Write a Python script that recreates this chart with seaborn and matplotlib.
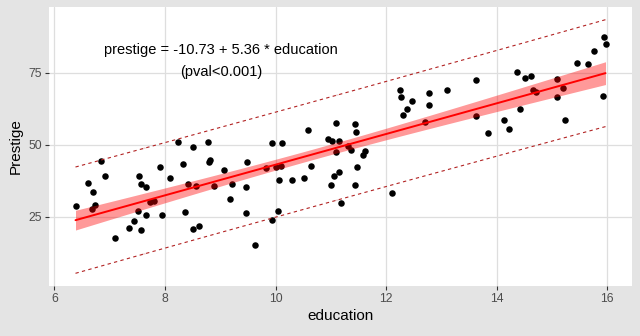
import numpy as np
import pandas as pd
import matplotlib
matplotlib.use("Agg")
import matplotlib.pyplot as plt
import seaborn as sns

education = [6.85, 6.92, 6.60, 6.69, 6.38, 6.74, 6.67, 7.53, 7.57, 7.65,
             7.91, 8.09, 7.73, 7.80, 7.51, 7.65, 7.94, 7.43, 7.34, 7.57,
             7.10, 8.24, 8.77, 8.50, 9.93, 8.33, 8.81, 8.79, 9.48, 9.06,
             8.41, 8.56, 8.88, 9.22, 9.46, 9.83, 10.00, 10.07, 9.17, 8.37,
             9.46, 10.05, 9.93, 8.50, 8.61, 9.62, 12.26, 12.27, 12.46, 12.77,
             12.38, 12.30, 12.77, 12.71, 11.09, 11.43, 11.45, 10.58, 10.94, 11.03,
             11.14, 11.09, 10.11, 11.31, 11.36, 11.61, 11.59, 10.10, 10.65, 11.48,
             11.14, 11.05, 10.29, 10.51, 11.00, 11.43, 12.10, 11.19, 15.95, 15.97,
             15.77, 15.45, 15.65, 14.36, 13.62, 13.11, 14.51, 14.62, 15.09, 14.65,
             14.71, 15.21, 15.09, 15.93, 14.43, 13.62, 14.14, 15.23, 13.84, 14.22]
prestige = [44.2, 39.0, 36.7, 33.5, 28.6, 29.0, 27.6, 39.0, 36.4, 35.2,
            42.2, 38.3, 30.1, 30.5, 26.9, 25.5, 25.5, 23.5, 21.0, 20.4,
            17.5, 51.0, 51.0, 49.1, 50.5, 43.3, 44.6, 43.9, 43.9, 41.1,
            36.3, 35.6, 35.6, 36.3, 35.2, 41.8, 42.4, 37.6, 31.0, 26.5,
            26.2, 26.9, 23.8, 20.6, 21.7, 15.1, 69.1, 66.5, 65.1, 67.9,
            62.3, 60.2, 63.7, 57.8, 57.4, 57.1, 54.3, 55.0, 51.9, 51.2,
            51.2, 47.4, 50.5, 49.7, 48.1, 47.7, 46.4, 42.7, 42.5, 42.2,
            40.4, 39.0, 37.6, 38.3, 35.9, 35.9, 33.1, 29.7, 87.3, 84.9,
            82.4, 78.3, 77.9, 75.1, 72.4, 68.9, 73.1, 73.8, 72.7, 68.9,
            68.5, 69.6, 66.5, 66.8, 62.3, 59.9, 58.5, 58.5, 54.0, 55.4]

x_ticks = [6, 8, 10, 12, 14, 16]
y_ticks = [25, 50, 75]
label_line1 = "prestige = -10.73 + 5.36 * education"
label_line2 = "(pval<0.001)"

df = pd.DataFrame({"education": education, "prestige": prestige})

# OLS fit with confidence and prediction intervals
xv = df["education"].to_numpy()
yv = df["prestige"].to_numpy()
n = len(xv)
b1, b0 = np.polyfit(xv, yv, 1)
resid = yv - (b0 + b1 * xv)
s = np.sqrt(np.sum(resid ** 2) / (n - 2))
xbar = xv.mean()
sxx = np.sum((xv - xbar) ** 2)
tq = 1.984
xs = np.sort(xv)
fit = b0 + b1 * xs
se_fit = s * np.sqrt(1 / n + (xs - xbar) ** 2 / sxx)
se_pred = s * np.sqrt(1 + 1 / n + (xs - xbar) ** 2 / sxx)
fitdf = pd.DataFrame({"education": xs, "fit": fit,
                      "lwr": fit - tq * se_fit, "upr": fit + tq * se_fit,
                      "plwr": fit - tq * se_pred, "pupr": fit + tq * se_pred})

sns.set_style("white")
plt.rcParams["font.family"] = ["Liberation Sans", "DejaVu Sans"]

fig = plt.figure(figsize=(6.4, 3.36), dpi=100)
fig.patch.set_facecolor("#E4E4E4")
ax = fig.add_axes([49 / 640, 50 / 336, 583 / 640, 279 / 336])
ax.set_facecolor("white")

sns.scatterplot(data=df, x="education", y="prestige", color="black", s=22,
                linewidth=0, ax=ax, zorder=3)
ax.fill_between(fitdf["education"], fitdf["lwr"], fitdf["upr"], color="#FF0000",
                alpha=0.4, linewidth=0, zorder=4)
sns.lineplot(data=fitdf, x="education", y="fit", color="#FF0000", linewidth=1.4,
             ax=ax, zorder=5)
sns.lineplot(data=fitdf, x="education", y="plwr", color="#B22222", linewidth=0.8,
             ax=ax, zorder=5)
sns.lineplot(data=fitdf, x="education", y="pupr", color="#B22222", linewidth=0.8,
             ax=ax, zorder=5)
for ln in ax.lines[1:]:
    ln.set_linestyle((0, (3, 3)))
ax.lines[0].set_linestyle("-")

xr = xv.max() - xv.min()
ax.set_xlim(xv.min() - 0.05 * xr, xv.max() + 0.05 * xr)
ylo = min(yv.min(), fitdf["plwr"].min())
yhi = max(yv.max(), fitdf["pupr"].max())
yr = yhi - ylo
ax.set_ylim(ylo - 0.05 * yr, yhi + 0.05 * yr)

ax.set_xticks(x_ticks)
ax.set_yticks(y_ticks)
ax.grid(True, color="#DEDEDE", linewidth=0.9, zorder=0)
ax.set_axisbelow(True)
for sp in ax.spines.values():
    sp.set_visible(False)
ax.tick_params(axis="both", length=3, width=0.8, color="#333333",
               labelcolor="#4D4D4D", labelsize=8.8, pad=2, bottom=True, left=True)

ax.set_xlabel("education", fontsize=11, color="black", labelpad=3)
ax.set_ylabel("Prestige", fontsize=11, color="black", labelpad=4)

ax.text(0.295, 0.845, label_line1, transform=ax.transAxes, ha="center",
        va="center", fontsize=10.5, color="black")
ax.text(0.295, 0.766, label_line2, transform=ax.transAxes, ha="center",
        va="center", fontsize=10.5, color="black")

fig.savefig("out.png", dpi=100, facecolor=fig.get_facecolor())
